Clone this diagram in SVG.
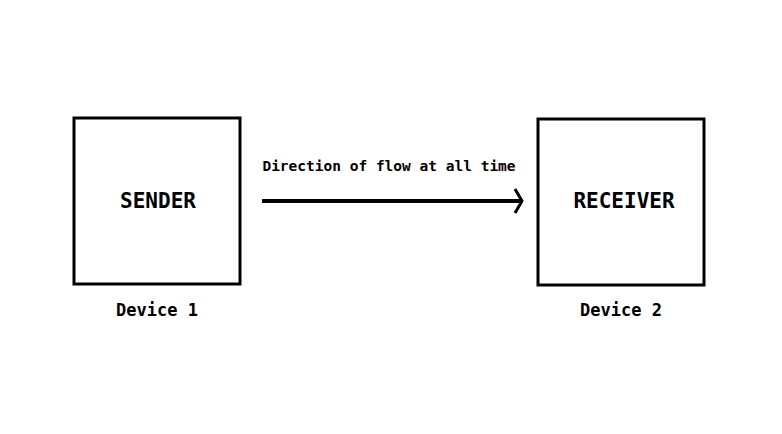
<svg xmlns="http://www.w3.org/2000/svg" width="782" height="434" viewBox="0 0 782 434">
<style>
.box{fill:#fff;stroke:#000;stroke-width:3}
.t{font-family:"DejaVu Sans Mono","Liberation Mono",monospace;font-weight:bold;fill:#000;text-anchor:middle}
.big{font-size:21px}
.mid{font-size:17px}
.sm{font-size:14.5px}
</style>
<rect width="782" height="434" fill="#fff"/>
<g id="sender">
<rect class="box" x="74" y="118" width="166" height="166"/>
<text class="t big" x="158" y="208">SENDER</text>
<text class="t mid" x="157" y="316">Device 1</text>
</g>
<g id="receiver">
<rect class="box" x="538" y="119" width="166" height="166"/>
<text class="t big" x="624" y="208">RECEIVER</text>
<text class="t mid" x="621" y="316">Device 2</text>
</g>
<g id="connectors">
<line x1="262" y1="201" x2="521" y2="201" stroke="#000" stroke-width="4"/>
<polyline points="515,189 522,201 515,213" fill="none" stroke="#000" stroke-width="3"/>
<text class="t sm" x="389" y="171">Direction of flow at all time</text>
</g>
</svg>
